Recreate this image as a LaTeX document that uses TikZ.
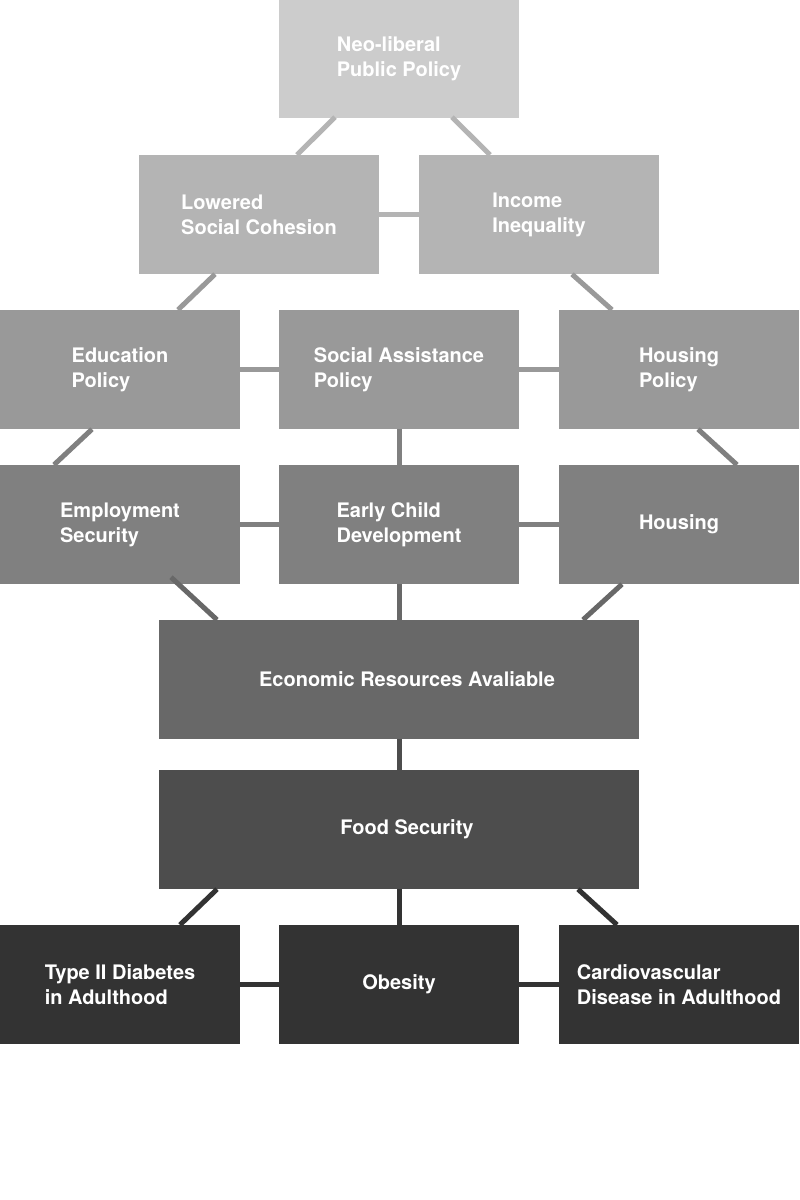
\documentclass[tikz,border=0pt]{standalone}
\usepackage{fontspec}
\setmainfont{TeX Gyre Heros}
\definecolor{lvA}{HTML}{CCCCCC}
\definecolor{lvB}{HTML}{B4B4B4}
\definecolor{lvC}{HTML}{999999}
\definecolor{lvD}{HTML}{808080}
\definecolor{lvE}{HTML}{686868}
\definecolor{lvF}{HTML}{4D4D4D}
\definecolor{lvG}{HTML}{333333}
\begin{document}
\begin{tikzpicture}[x=1pt,y=-1pt,font=\fontsize{20}{25}\selectfont\bfseries,
		box/.style={fill=#1,text=white,align=left,inner sep=0pt,minimum width=240pt,minimum height=119pt},
		link/.style={draw=#1,line width=5pt}]
	\useasboundingbox[fill=white] (0,0) rectangle (800,1200);
	\node[box=lvA] (neo) at (399,58.5) {Neo-liberal\\Public Policy};
	\node[box=lvB] (cohesion) at (259,214.5) {Lowered\\Social Cohesion};
	\node[box=lvB] (income) at (539,214.5) {Income\\Inequality};
	\node[box=lvC] (edu) at (120,369.5) {Education\\Policy};
	\node[box=lvC] (assist) at (399,369.5) {Social Assistance\\Policy};
	\node[box=lvC] (hpolicy) at (679,369.5) {Housing\\Policy};
	\node[box=lvD] (employ) at (120,524.5) {Employment\\Security};
	\node[box=lvD] (ecd) at (399,524.5) {Early Child\\Development};
	\node[box=lvD] (housing) at (679,524.5) {Housing};
	\node[box=lvE,minimum width=480pt] (econ) at (399,679.5) {\hspace*{16pt}Economic Resources Avaliable};
	\node[box=lvF,minimum width=480pt] (food) at (399,829.5) {\hspace*{16pt}Food Security};
	\node[box=lvG] (diabetes) at (120,984.5) {Type II Diabetes\\in Adulthood};
	\node[box=lvG] (obesity) at (399,984.5) {Obesity};
	\node[box=lvG] (cardio) at (679,984.5) {Cardiovascular\\Disease in Adulthood};
	\draw[link=lvB] ([xshift=-64pt,yshift=1pt]neo.south)--([xshift=38pt]cohesion.north);
	\draw[link=lvB] ([xshift=53pt,yshift=1pt]neo.south)--([xshift=-49pt]income.north);
	\draw[link=lvB] (cohesion.east)--(income.west);
	\draw[link=lvC] ([xshift=-44pt]cohesion.south)--([xshift=58pt]edu.north);
	\draw[link=lvC] ([xshift=33pt]income.south)--([xshift=-67pt]hpolicy.north);
	\draw[link=lvC] (edu.east)--(assist.west) (assist.east)--(hpolicy.west);
	\draw[link=lvD] ([xshift=-28pt]edu.south)--([xshift=-66pt]employ.north);
	\draw[link=lvD] (assist.south)--(ecd.north);
	\draw[link=lvD] ([xshift=19pt]hpolicy.south)--([xshift=58pt]housing.north);
	\draw[link=lvD] (employ.east)--(ecd.west) (ecd.east)--(housing.west);
	\draw[link=lvE] ([xshift=51pt,yshift=7pt]employ.south)--([xshift=-182pt]econ.north);
	\draw[link=lvE] (ecd.south)--(econ.north);
	\draw[link=lvE] ([xshift=-57pt]housing.south)--([xshift=184pt]econ.north);
	\draw[link=lvF] (econ.south)--(food.north);
	\draw[link=lvG] ([xshift=-182pt]food.south)--([xshift=60pt]diabetes.north);
	\draw[link=lvG] (food.south)--(obesity.north);
	\draw[link=lvG] ([xshift=179pt]food.south)--([xshift=-62pt]cardio.north);
	\draw[link=lvG] (diabetes.east)--(obesity.west) (obesity.east)--(cardio.west);
\end{tikzpicture}
\end{document}
